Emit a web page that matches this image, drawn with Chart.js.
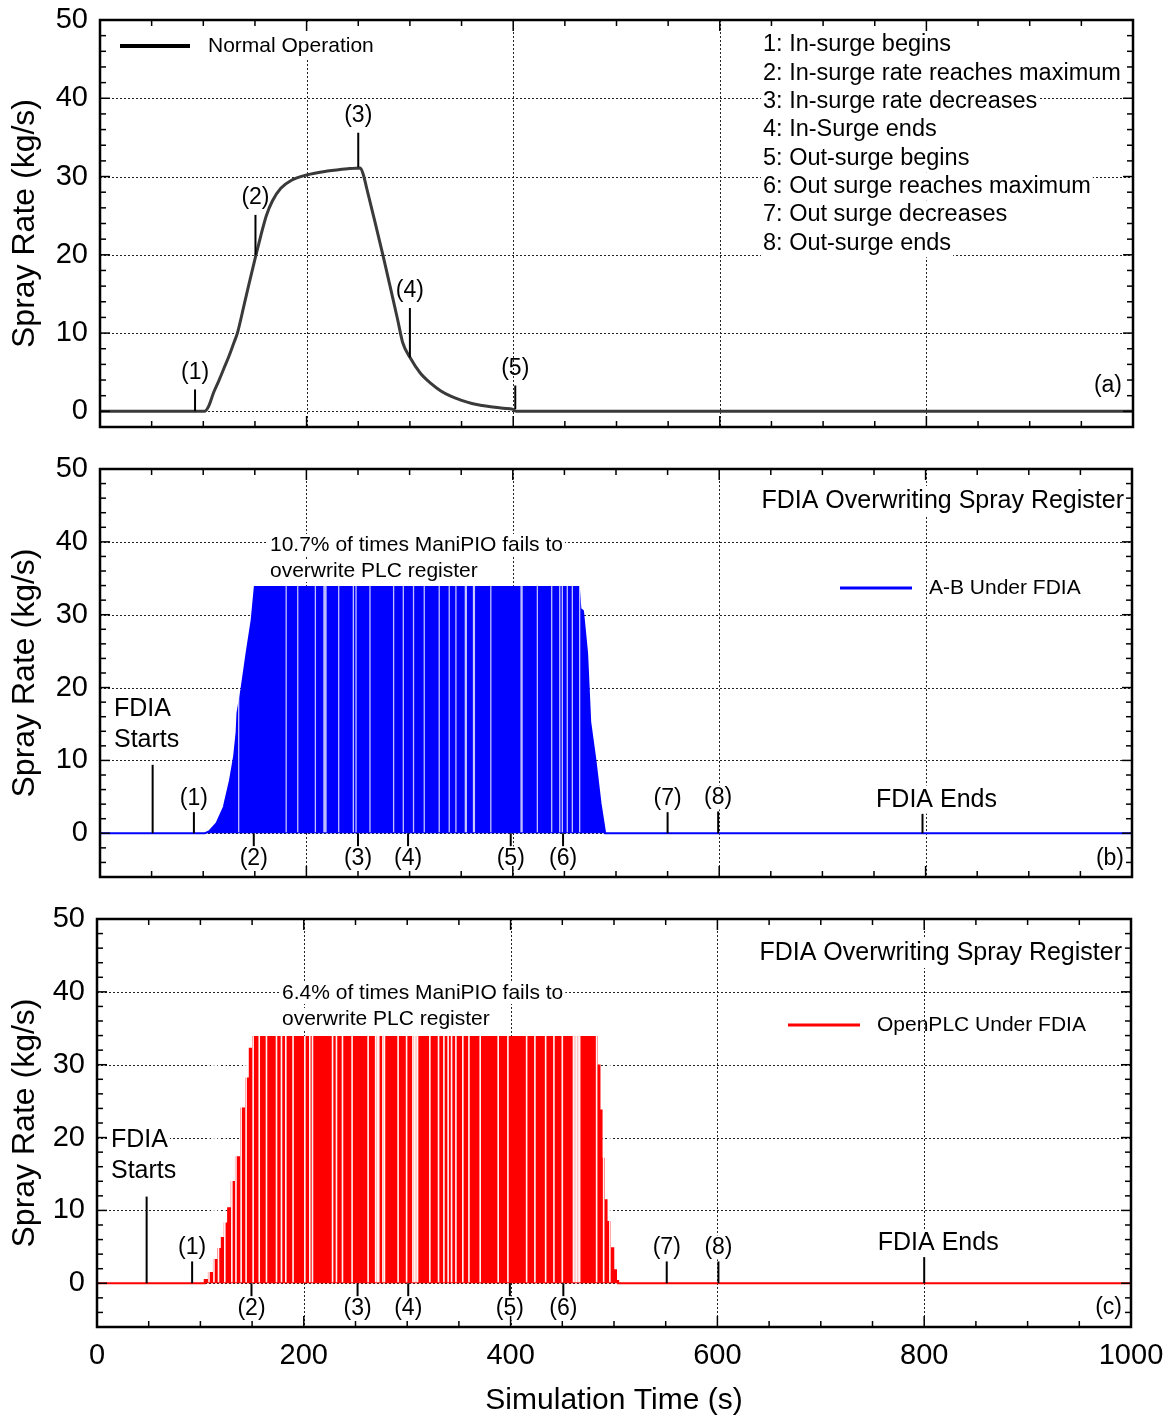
<!DOCTYPE html>
<html>
<head>
<meta charset="utf-8">
<title>Spray rate under FDIA</title>
<script src="https://cdn.jsdelivr.net/npm/chart.js@4.4.1/dist/chart.umd.min.js"></script>
<style>
	body { margin: 0; background: #fff; }
	#wrap { position: relative; width: 1168px; height: 1416px; overflow: hidden; }
	canvas { position: absolute; left: 0; }
</style>
</head>
<body>
<div id="wrap">
	<canvas id="panelA" width="1168" height="440" style="top:0px"></canvas>
	<canvas id="panelB" width="1168" height="450" style="top:440px"></canvas>
	<canvas id="panelC" width="1168" height="526" style="top:890px"></canvas>
</div>
<script>
// axis ticks
var timeTicks = [0, 200, 400, 600, 800, 1000];
var rateTicks = [0, 10, 20, 30, 40, 50];

// (a) normal operation, spray rate (kg/s) against time (s)
var normalTime = [0, 101, 105, 110, 115, 120, 125, 130, 133, 140, 145, 151, 156, 161, 167, 175, 185, 200, 220, 240, 252, 255, 258, 266, 274, 282, 288, 293, 300, 310, 320, 330, 340, 350, 360, 370, 380, 390, 400, 403, 1000];
var normalRate = [0, 0, 0.6, 2.4, 3.9, 5.5, 7.1, 8.9, 10.0, 13.9, 16.7, 20.0, 22.6, 25.0, 26.9, 28.5, 29.5, 30.2, 30.7, 31.0, 31.1, 30.2, 28.6, 24.3, 19.9, 15.3, 11.8, 8.8, 6.9, 4.9, 3.6, 2.6, 1.9, 1.4, 1.0, 0.75, 0.55, 0.4, 0.25, 0, 0];

// (b) A-B PLC under FDIA: outline of the overwritten signal
var abEnvTime = [0, 101.5, 106, 113, 120, 126, 130, 132.4, 133.2, 137, 142, 147, 150, 464, 465.5, 468, 472, 475, 480, 485, 489.5, 1000];
var abEnvRate = [0, 0, 0.3, 1.4, 3.6, 7.3, 10.6, 13.9, 16.5, 19.7, 24.7, 29.3, 33.8, 33.8, 30.8, 30.5, 24.7, 15.3, 10.1, 4.1, 0, 0];
// times where ManiPIO did not manage to overwrite the register
var abFailTimes = [134.4, 180.4, 191.6, 208.7, 217, 218, 219, 231.3, 245.5, 248.1, 261.6, 284.5, 293.9, 303.8, 314.2, 328.7, 338.4, 344.9, 354, 355, 361.9, 362.8, 378.7, 408, 409, 423.8, 437.7, 445.5, 448, 452.8, 457.7, 464.8];

// (c) OpenPLC under FDIA
var oplcEnvTime = [0, 102.6, 105.8, 110.7, 115.5, 119.4, 122, 125.2, 128.4, 132.3, 136.5, 142.2, 146.1, 149.4, 152.6, 481.6, 484.8, 487.1, 489, 491.2, 494.4, 497.7, 500.9, 503, 505, 1000];
var oplcEnvRate = [0, 0, 0.45, 1.4, 3.2, 4.7, 6.2, 8.2, 10.3, 13.9, 17.3, 24.0, 28.1, 32.2, 33.8, 33.8, 29.9, 23.7, 17.1, 11.4, 8.4, 4.8, 1.8, 0.3, 0, 0];
var oplcFailTimes = [108.3, 113.1, 117.5, 123.6, 130.4, 134.4, 139.4, 144.2, 151, 156.9, 163.9, 173.6, 178.4, 182.6, 189.6, 201, 205.8, 208.4, 227.8, 231.6, 237.4, 246.7, 262.2, 269.5, 271, 272.5, 276.5, 278, 291.2, 299.4, 305.5, 307, 308.5, 310, 321.9, 330.3, 335.5, 339.6, 342.9, 347.1, 353.8, 359.7, 370.6, 388, 397.4, 415.5, 423.5, 433.9, 441.9, 450, 460.8, 462.3, 463.8, 465.3, 466.8, 483.2, 490, 496];
var overwriteRate = 33.8;

// event markers: time (s) and the rates the marker line spans
var normalEvents = [
	{ tag: '(1)', time: 92, from: 0, to: 2.8 },
	{ tag: '(2)', time: 150.5, from: 20, to: 25.1 },
	{ tag: '(3)', time: 250, from: 31.2, to: 35.6 },
	{ tag: '(4)', time: 300, from: 6.9, to: 13.2 },
	{ tag: '(5)', time: 402, from: 0.3, to: 3.3 }
];
var abEvents = [
	{ tag: '(1)', time: 91, from: 0, to: 2.9 },
	{ tag: '(2)', time: 149, from: 0, to: -1.8 },
	{ tag: '(3)', time: 250, from: 0, to: -1.8 },
	{ tag: '(4)', time: 298.5, from: 0, to: -1.8 },
	{ tag: '(5)', time: 398, from: 0, to: -1.8 },
	{ tag: '(6)', time: 448.7, from: 0, to: -1.8 },
	{ tag: '(7)', time: 550, from: 0, to: 2.9 },
	{ tag: '(8)', time: 599, from: 0, to: 3.0 }
];
var oplcEvents = [
	{ tag: '(1)', time: 92, from: 0, to: 3.0 },
	{ tag: '(2)', time: 149.4, from: 0, to: -1.8 },
	{ tag: '(3)', time: 252, from: 0, to: -1.8 },
	{ tag: '(4)', time: 301, from: 0, to: -1.8 },
	{ tag: '(5)', time: 399.3, from: 0, to: -1.8 },
	{ tag: '(6)', time: 451, from: 0, to: -1.8 },
	{ tag: '(7)', time: 551, from: 0, to: 3.0 },
	{ tag: '(8)', time: 601, from: 0, to: 3.0 }
];
var abAttack = { start: 51, startTip: 9.4, end: 797, endTip: 2.7 };
var oplcAttack = { start: 48, startTip: 11.9, end: 800, endTip: 3.6 };

var eventNotes = [
	'1: In-surge begins',
	'2: In-surge rate reaches maximum',
	'3: In-surge rate decreases',
	'4: In-Surge ends',
	'5: Out-surge begins',
	'6: Out surge reaches maximum',
	'7: Out surge decreases',
	'8: Out-surge ends'
];

var FONT = '"Liberation Sans", Arial, sans-serif';
Chart.defaults.font.family = FONT;

function points(xs, ys) {
	return xs.map(function (t, i) { return { x: t, y: ys[i] }; });
}

function text(ctx, str, x, y, size, align, boxH) {
	ctx.font = size + 'px ' + FONT;
	ctx.textAlign = align || 'left';
	ctx.textBaseline = 'middle';
	if (boxH) {
		var w = ctx.measureText(str).width;
		var x0 = align === 'center' ? x - w / 2 : (align === 'right' ? x - w : x);
		ctx.fillStyle = '#fff';
		ctx.fillRect(x0 - 2, y - boxH / 2, w + 4, boxH);
	}
	ctx.fillStyle = '#000';
	ctx.fillText(str, x, y);
}

function seg(ctx, x1, y1, x2, y2) {
	ctx.beginPath();
	ctx.moveTo(x1, y1);
	ctx.lineTo(x2, y2);
	ctx.stroke();
}

// dotted grid under the data
var gridPlugin = {
	id: 'dottedGrid',
	beforeDatasetsDraw: function (chart) {
		var ctx = chart.ctx, a = chart.chartArea, x = chart.scales.x, y = chart.scales.y;
		ctx.save();
		ctx.strokeStyle = '#222';
		ctx.lineWidth = 1;
		ctx.setLineDash([2, 2]);
		rateTicks.forEach(function (v) {
			if (v === 50) return;
			var py = Math.round(y.getPixelForValue(v)) + 0.5;
			seg(ctx, a.left, py, a.right, py);
		});
		timeTicks.forEach(function (t) {
			if (t === 0 || t === 1000) return;
			var px = Math.round(x.getPixelForValue(t)) + 0.5;
			seg(ctx, px, a.top, px, a.bottom);
		});
		ctx.restore();
	}
};

// thin breaks in the overwritten signal where the write failed
function drawFailures(chart, times, color, width) {
	var ctx = chart.ctx, x = chart.scales.x, y = chart.scales.y;
	var top = y.getPixelForValue(overwriteRate), base = y.getPixelForValue(0);
	ctx.save();
	ctx.fillStyle = color;
	times.forEach(function (t) {
		var px = x.getPixelForValue(t);
		ctx.fillRect(px - width / 2, top - 1, width, base - top);
	});
	ctx.restore();
}

// box round the plot with inward ticks on all four sides
function drawFrame(chart) {
	var ctx = chart.ctx, a = chart.chartArea, x = chart.scales.x, y = chart.scales.y;
	ctx.save();
	ctx.strokeStyle = '#000';
	ctx.lineWidth = 1.5;
	for (var v = Math.ceil(y.min / 2) * 2; v <= y.max; v += 2) {
		var py = y.getPixelForValue(v);
		var len = v % 10 === 0 ? 10 : 6;
		seg(ctx, a.left, py, a.left + len, py);
		seg(ctx, a.right - len, py, a.right, py);
	}
	for (var t = 0; t <= 1000; t += 50) {
		var px = x.getPixelForValue(t);
		var tl = t % 200 === 0 ? 11 : 6;
		seg(ctx, px, a.bottom - tl, px, a.bottom);
		seg(ctx, px, a.top, px, a.top + tl);
	}
	ctx.lineWidth = 2.5;
	ctx.strokeRect(a.left, a.top, a.right - a.left, a.bottom - a.top);
	ctx.restore();
}

function drawMarkers(chart, events, above, boxed) {
	var ctx = chart.ctx, x = chart.scales.x, y = chart.scales.y;
	ctx.save();
	ctx.strokeStyle = '#000';
	ctx.lineWidth = 2;
	events.forEach(function (e) {
		var px = x.getPixelForValue(e.time);
		var p0 = y.getPixelForValue(e.from), p1 = y.getPixelForValue(e.to);
		seg(ctx, px, p0, px, p1);
		var ly = e.to >= e.from ? p1 - above : p1 + 12;
		text(ctx, e.tag, px, ly, 23, 'center', boxed ? 24 : 0);
	});
	ctx.restore();
}

function drawAttack(chart, attack) {
	var ctx = chart.ctx, a = chart.chartArea, x = chart.scales.x, y = chart.scales.y;
	var p0 = y.getPixelForValue(0);
	ctx.save();
	ctx.strokeStyle = '#000';
	ctx.lineWidth = 2;
	var sx = x.getPixelForValue(attack.start), sy = y.getPixelForValue(attack.startTip);
	seg(ctx, sx, p0, sx, sy);
	text(ctx, 'FDIA', a.left + 14, sy - 56, 25, 'left', 28);
	text(ctx, 'Starts', a.left + 14, sy - 25, 25, 'left', 28);
	var ex = x.getPixelForValue(attack.end), ey = y.getPixelForValue(attack.endTip);
	seg(ctx, ex, p0, ex, ey);
	text(ctx, 'FDIA Ends', ex + 14, ey - 14, 25, 'center', 28);
	ctx.restore();
}

function drawLegendLine(ctx, x1, x2, y, color, width) {
	ctx.save();
	ctx.strokeStyle = color;
	ctx.lineWidth = width;
	seg(ctx, x1, y, x2, y);
	ctx.restore();
}

// keep tick labels from pushing the plot area in
function noLabelPadding(s) {
	s.paddingTop = 0;
	s.paddingBottom = 0;
	s.paddingLeft = 0;
	s.paddingRight = 0;
}

function options(yMin, showTime, pad, axisWidth) {
	return {
		responsive: false,
		animation: false,
		devicePixelRatio: 1,
		events: [],
		layout: { padding: pad },
		plugins: { legend: { display: false }, tooltip: { enabled: false } },
		scales: {
			x: {
				type: 'linear', min: 0, max: 1000, offset: false, display: showTime,
				afterBuildTicks: function (s) { s.ticks = timeTicks.map(function (v) { return { value: v }; }); },
				afterFit: function (s) { noLabelPadding(s); if (showTime) s.height = 89; },
				grid: { display: false, drawTicks: false },
				border: { display: false },
				ticks: {
					font: { size: 29 }, color: '#000', padding: 12, maxRotation: 0, autoSkip: false,
					callback: function (v) { return String(v); }
				},
				title: { display: true, text: 'Simulation Time (s)', font: { size: 30, lineHeight: 1 }, color: '#000', padding: { top: 0, bottom: 0 } }
			},
			y: {
				type: 'linear', min: yMin, max: 50,
				afterBuildTicks: function (s) { s.ticks = rateTicks.map(function (v) { return { value: v }; }); },
				afterFit: function (s) { noLabelPadding(s); s.width = axisWidth; },
				grid: { display: false, drawTicks: false },
				border: { display: false },
				ticks: { font: { size: 29 }, color: '#000', padding: 12 },
				title: { display: true, text: 'Spray Rate (kg/s)', font: { size: 32 }, color: '#000', padding: { top: 6, bottom: 0 } }
			}
		}
	};
}

function attackDataset(envTime, envRate, color, stepped) {
	return {
		data: points(envTime, envRate),
		borderColor: color,
		backgroundColor: color,
		borderWidth: 2,
		pointRadius: 0,
		stepped: stepped,
		fill: 'origin'
	};
}

// (a) normal operation
new Chart(document.getElementById('panelA'), {
	type: 'line',
	data: {
		datasets: [{
			data: points(normalTime, normalRate),
			borderColor: '#3a3a3a',
			borderWidth: 3,
			pointRadius: 0,
			cubicInterpolationMode: 'monotone',
			fill: false
		}]
	},
	options: options(-2, false, { top: 20, right: 35, bottom: 13, left: 0 }, 100),
	plugins: [gridPlugin, {
		id: 'panelA',
		afterDatasetsDraw: function (chart) {
			var ctx = chart.ctx, a = chart.chartArea;
			ctx.save();
			ctx.fillStyle = '#fff';
			ctx.fillRect(a.left + 2, a.top + 2, 285, 38);
			drawLegendLine(ctx, a.left + 20, a.left + 90, a.top + 26, '#000', 4);
			text(ctx, 'Normal Operation', a.left + 108, a.top + 26, 21, 'left', 0);
			eventNotes.forEach(function (s, i) {
				text(ctx, s, 763, a.top + 25 + i * 28.3, 23.5, 'left', 28.3);
			});
			text(ctx, '(a)', a.right - 11, a.bottom - 41, 23, 'right', 0);
			ctx.restore();
			drawMarkers(chart, normalEvents, 17, false);
			drawFrame(chart);
		}
	}]
});

// (b) A-B PLC under FDIA
new Chart(document.getElementById('panelB'), {
	type: 'line',
	data: { datasets: [attackDataset(abEnvTime, abEnvRate, '#0000ff', false)] },
	options: options(-6, false, { top: 29, right: 36, bottom: 13, left: 0 }, 100),
	plugins: [gridPlugin, {
		id: 'panelB',
		afterDatasetsDraw: function (chart) {
			var ctx = chart.ctx, a = chart.chartArea;
			drawFailures(chart, abFailTimes, 'rgba(255,255,255,0.75)', 1.3);
			text(ctx, 'FDIA Overwriting Spray Register', a.right - 8, a.top + 32, 25, 'right', 30);
			text(ctx, '10.7% of times ManiPIO fails to', a.left + 170, a.top + 76, 21, 'left', 22);
			text(ctx, 'overwrite PLC register', a.left + 170, a.top + 102, 21, 'left', 22);
			drawLegendLine(ctx, a.left + 740, a.left + 812, a.top + 119, '#0000ff', 3);
			text(ctx, 'A-B Under FDIA', a.left + 829, a.top + 119, 21, 'left', 0);
			text(ctx, '(b)', a.right - 8, a.bottom - 18, 23, 'right', 0);
			drawMarkers(chart, abEvents, 14, true);
			drawAttack(chart, abAttack);
			drawFrame(chart);
		}
	}]
});

// (c) OpenPLC under FDIA
new Chart(document.getElementById('panelC'), {
	type: 'line',
	data: { datasets: [attackDataset(oplcEnvTime, oplcEnvRate, '#ff0000', 'middle')] },
	options: options(-6, true, { top: 29, right: 37, bottom: 0, left: 0 }, 97),
	plugins: [gridPlugin, {
		id: 'panelC',
		afterDatasetsDraw: function (chart) {
			var ctx = chart.ctx, a = chart.chartArea;
			drawFailures(chart, oplcFailTimes, 'rgba(255,255,255,0.95)', 1.6);
			text(ctx, 'FDIA Overwriting Spray Register', a.right - 9, a.top + 34, 25, 'right', 30);
			text(ctx, '6.4% of times ManiPIO fails to', a.left + 185, a.top + 74, 21, 'left', 22);
			text(ctx, 'overwrite PLC register', a.left + 185, a.top + 100, 21, 'left', 22);
			drawLegendLine(ctx, a.left + 691, a.left + 763, a.top + 106, '#ff0000', 3);
			text(ctx, 'OpenPLC Under FDIA', a.left + 780, a.top + 106, 21, 'left', 0);
			text(ctx, '(c)', a.right - 9, a.bottom - 19, 23, 'right', 0);
			drawMarkers(chart, oplcEvents, 14, true);
			drawAttack(chart, oplcAttack);
			drawFrame(chart);
		}
	}]
});
</script>
</body>
</html>
